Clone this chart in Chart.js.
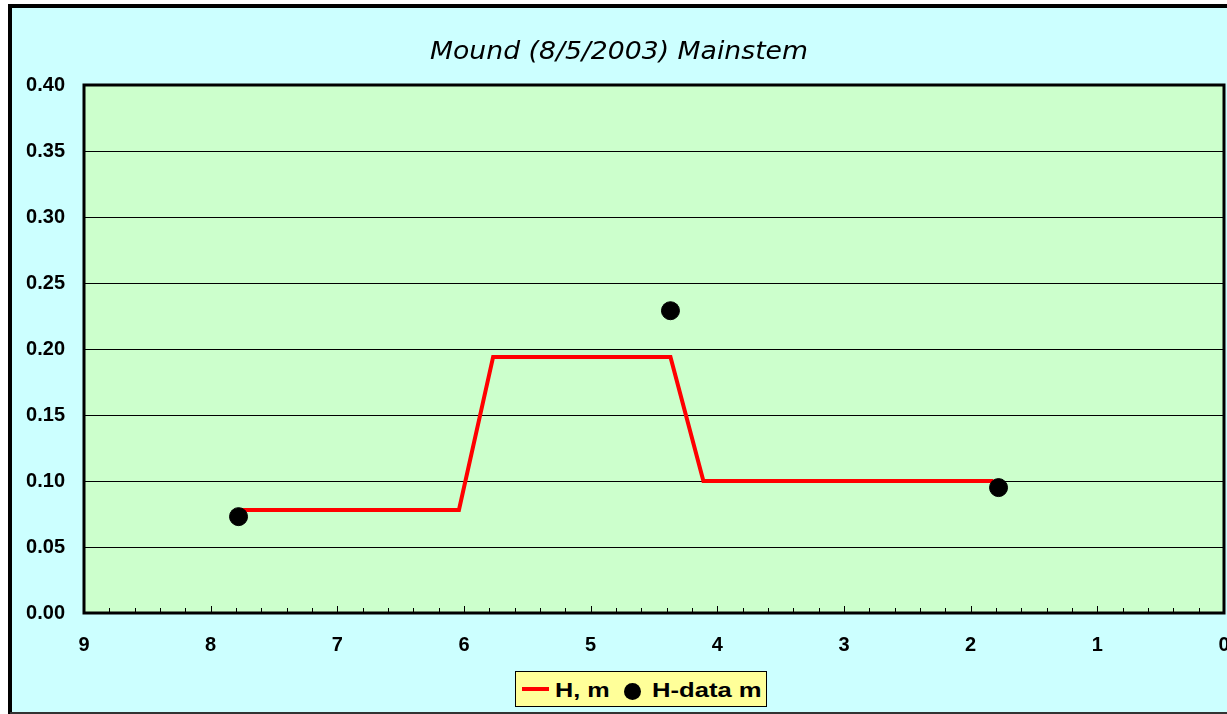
<!DOCTYPE html>
<html>
<head>
<meta charset="utf-8">
<script src="https://cdn.jsdelivr.net/npm/chart.js@4"></script>
<style>
    body { margin: 0; background: #fff; overflow: hidden; }
    #wrap { position: relative; width: 1227px; height: 714px; overflow: hidden; }
    #chartBox { position: absolute; left: 0; top: 0; width: 1234px; height: 714px; }
    #legendBox {
        position: absolute; left: 515px; top: 671px; width: 250px; height: 34px;
        background: #FFFF99; border: 1px solid #000;
    }
    .lg-line { position: absolute; left: 6px; top: 15px; width: 27px; height: 4px; background: #FF0000; }
    .lg-dot { position: absolute; left: 108px; top: 11px; width: 17px; height: 17px; border-radius: 50%; background: #000; }
    .lg-text {
        position: absolute; top: 7px; font: bold 21px 'Liberation Sans', Arial, sans-serif;
        line-height: 21px; color: #000; transform-origin: left center; white-space: nowrap;
    }
</style>
</head>
<body>
<div id="wrap">
    <div id="chartBox"><canvas id="myChart"></canvas></div>
    <div id="legendBox">
        <div class="lg-line"></div>
        <span class="lg-text" style="left:39px; transform: scaleX(1.2);">H, m</span>
        <div class="lg-dot"></div>
        <span class="lg-text" style="left:136px; transform: scaleX(1.22);">H-data m</span>
    </div>
</div>
<script>
// Data Definitions
const titleText = 'Mound (8/5/2003) Mainstem';

// model line H, m
const hX = [7.78, 6.04, 5.77, 4.37, 4.11, 1.82];
const hY = [0.078, 0.078, 0.194, 0.194, 0.100, 0.100];

// measured points H-data m
const dataX = [7.78, 4.37, 1.78];
const dataY = [0.073, 0.229, 0.095];

// axis ranges
const xMin = 0, xMax = 9, xStep = 1, xMinorStep = 0.2;
const yMin = 0, yMax = 0.4, yStep = 0.05;

const labelFont = { family: "'Liberation Sans', Arial, sans-serif", size: 20, weight: 'bold' };

// Background, frame, plot area, title and minor ticks
const decorPlugin = {
    id: 'decor',
    beforeDraw(chart) {
        const c = chart.ctx;
        const a = chart.chartArea;
        c.save();
        c.fillStyle = '#FFFFFF';
        c.fillRect(0, 0, chart.width, chart.height);
        c.fillStyle = '#CCFFFF';
        c.fillRect(10, 6, chart.width, chart.height);
        // outer frame
        c.strokeStyle = '#000';
        c.lineWidth = 4;
        c.beginPath();
        c.moveTo(10, chart.height);
        c.lineTo(10, 6);
        c.lineTo(chart.width + 5, 6);
        c.stroke();
        c.strokeStyle = '#333';
        c.lineWidth = 2;
        c.beginPath();
        c.moveTo(10, chart.height - 1);
        c.lineTo(chart.width, chart.height - 1);
        c.stroke();
        // plot area
        c.fillStyle = '#CCFFCC';
        c.fillRect(a.left, a.top, a.right - a.left, a.bottom - a.top);
        // title
        c.font = "italic 24px 'DejaVu Sans', Verdana, sans-serif";
        c.fillStyle = '#000';
        c.textBaseline = 'alphabetic';
        const w = c.measureText(titleText).width;
        const sx = 378 / w;
        c.translate(619, 59);
        c.scale(sx, 1);
        c.textAlign = 'center';
        c.fillText(titleText, 0, 0);
        c.restore();
    },
    beforeDatasetsDraw(chart) {
        const c = chart.ctx;
        const a = chart.chartArea;
        const xs = chart.scales.x;
        c.save();
        // minor / major ticks pointing inward
        c.strokeStyle = '#000';
        c.lineWidth = 1;
        c.beginPath();
        for (let i = 1; i < Math.round((xMax - xMin) / xMinorStep); i++) {
            const v = xMin + i * xMinorStep;
            const px = Math.round(xs.getPixelForValue(v)) + 0.5;
            const major = Math.abs(v - Math.round(v)) < 1e-6;
            c.moveTo(px, a.bottom);
            c.lineTo(px, a.bottom - (major ? 7 : 5));
        }
        c.stroke();
        // plot border
        c.lineWidth = 3;
        c.strokeRect(a.left, a.top, a.right - a.left, a.bottom - a.top);
        c.restore();
    }
};

const ctx = document.getElementById('myChart').getContext('2d');

new Chart(ctx, {
    type: 'scatter',
    data: {
        datasets: [
            {
                label: 'H-data m',
                data: dataX.map((x, i) => ({ x: x, y: dataY[i] })),
                backgroundColor: '#000000',
                borderColor: '#000000',
                pointRadius: 9,
                showLine: false
            },
            {
                label: 'H, m',
                data: hX.map((x, i) => ({ x: x, y: hY[i] })),
                borderColor: '#FF0000',
                backgroundColor: '#FF0000',
                borderWidth: 4,
                pointRadius: 0,
                showLine: true,
                fill: false,
                tension: 0
            }
        ]
    },
    options: {
        responsive: true,
        maintainAspectRatio: false,
        animation: false,
        events: [],
        layout: {
            padding: { top: 85, left: 0, right: 0, bottom: 0 }
        },
        scales: {
            x: {
                type: 'linear',
                reverse: true,
                min: xMin,
                max: xMax,
                afterFit(scale) {
                    scale.height = 101;
                    scale.paddingLeft = 0;
                    scale.paddingRight = 0;
                },
                ticks: {
                    stepSize: xStep,
                    color: '#000',
                    font: labelFont,
                    padding: 20,
                    maxRotation: 0,
                    autoSkip: false
                },
                grid: { display: false, drawTicks: false },
                border: { display: false }
            },
            y: {
                min: yMin,
                max: yMax,
                afterFit(scale) {
                    scale.width = 84;
                    scale.paddingTop = 0;
                    scale.paddingBottom = 0;
                },
                ticks: {
                    stepSize: yStep,
                    color: '#000',
                    font: labelFont,
                    padding: 19,
                    callback: v => v.toFixed(2)
                },
                grid: { color: '#000', lineWidth: 1, drawTicks: false },
                border: { display: false }
            }
        },
        plugins: {
            legend: { display: false },
            title: { display: false },
            tooltip: { enabled: false }
        }
    },
    plugins: [decorPlugin]
});
</script>
</body>
</html>
